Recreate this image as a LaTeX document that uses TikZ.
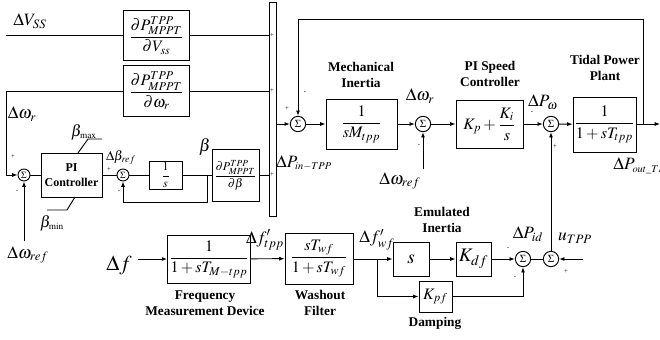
\documentclass[tikz,border=0pt]{standalone}
\usepackage{amsmath}
\usepackage{mathptmx}
\usepackage{fontspec}
\setmainfont{Liberation Serif}
\usetikzlibrary{arrows.meta, positioning, calc}

\tikzset{
  blk/.style={draw, inner sep=1pt, font=\large},
  sumb/.style={draw, circle, minimum size=11.5pt, inner sep=0pt, font=\footnotesize},
  sums/.style={sumb, minimum size=9pt, font=\scriptsize},
  ttl/.style={font=\bfseries, align=center, inner sep=0pt},
  sig/.style={font=\fontsize{13}{15}\selectfont, inner sep=0pt},
  pm/.style={font=\tiny, inner sep=0pt},
}

\begin{document}
\begin{tikzpicture}[x=0.75pt, y=-0.75pt, >={Latex[length=4pt,width=3pt]}, line width=0.7pt]
  \useasboundingbox (0,0) rectangle (660,339);
  % Sensitivity blocks and summing bar
  \node[blk, minimum width=50pt, minimum height=37pt] (bVss) at (156.5,35.5) {$\dfrac{\partial P^{TPP}_{MPPT}}{\partial V_{ss}}$};
  \node[blk, minimum width=50pt, minimum height=38pt] (bWr) at (156.5,91) {$\dfrac{\partial P^{TPP}_{MPPT}}{\partial \omega_{r}}$};
  \node[draw, minimum width=5.25pt, minimum height=161pt, inner sep=0pt] (bar) at (272.5,109.5) {};
  \node[sig] (lVss) at (30,21) {$\Delta V_{SS}$};
  \coordinate (vin) at (6,35.5);
  \draw (vin) -- (bVss.west);
  \draw (bVss.east) -- (bVss.east -| bar.west);
  \draw (bWr.east) -- (bWr.east -| bar.west);
  % Pitch loop
  \node[sums] (s1) at (24,175) {$\Sigma$};
  \node[blk, font=\bfseries\small, align=center, minimum width=45.75pt, minimum height=33pt] (bPI) at (71.5,175) {PI\\Controller};
  \node[sums] (s2) at (123,175) {$\Sigma$};
  \node[blk, font=\small, minimum width=24.75pt, minimum height=21pt] (bInt) at (165.5,175) {$\dfrac{1}{s}$};
  \node[blk, font=\small, minimum width=35.25pt, minimum height=39pt] (bBeta) at (235.5,175) {$\dfrac{\partial P^{TPP}_{MPPT}}{\partial \beta}$};
  \coordinate (wl) at (6,91);
  \coordinate (wref1) at (24,241);
  \draw[->] (bWr.west) -- (wl) |- (s1);
  \draw[->] (wref1) -- (s1);
  \draw (s1) -- (bPI);
  \draw (bPI) -- (s2);
  \draw (s2) -- (bInt);
  \draw (bInt) -- (bBeta);
  \draw (bBeta.east) -- (bBeta.east -| bar.west);
  \coordinate (ifb) at (207,175);
  \coordinate (ifb2) at (207,202);
  \draw[->] (ifb) -- (ifb2) -| (s2);
  \draw (78,153) -- (88,139) -- (102,139);
  \draw (75,197) -- (67,210) -- (47,210);
  \node[sig] (lWr1) at (22,114) {$\Delta\omega_{r}$};
  \node[sig] (lWref1) at (28,255) {$\Delta\omega_{ref}$};
  \node[inner sep=0pt, font=\large] (lbmax) at (84,132) {$\beta_{\scriptscriptstyle\mathrm{max}}$};
  \node[inner sep=0pt, font=\large] (lbmin) at (52,223) {$\beta_{\scriptscriptstyle\mathrm{min}}$};
  \node[inner sep=0pt] (ldb) at (121,158) {$\Delta\beta_{ref}$};
  \node[sig] (lbeta) at (205,147) {$\beta$};
  \node[pm] at (13,157) {+};
  \node[pm] at (17,192) {-};
  \node[pm] at (109,170) {+};
  \node[pm] at (119,192) {-};
  \node[pm] at (272,35.5) {+};
  \node[pm] at (272,91) {+};
  \node[pm] at (272,175) {+};
  % Speed loop and tidal power plant
  \node[sumb] (s3) at (298,124) {$\Sigma$};
  \node[blk, minimum width=53.25pt, minimum height=37.5pt] (bMech) at (361.5,124) {$\dfrac{1}{sM_{tpp}}$};
  \node[sumb] (s4) at (423,124) {$\Sigma$};
  \node[blk, minimum width=50.25pt, minimum height=36pt] (bPIs) at (489.5,124) {$K_{p}+\dfrac{K_{i}}{s}$};
  \node[sumb] (s5) at (551,124) {$\Sigma$};
  \node[blk, minimum width=47.25pt, minimum height=41.25pt] (bTPP) at (604.5,124.5) {$\dfrac{1}{1+sT_{tpp}}$};
  \coordinate (out) at (660,124);
  \coordinate (fb) at (643,124);
  \coordinate (fbtop) at (643,19);
  \coordinate (wref2) at (423,169);
  \draw[->] (s3.west -| bar.east) -- (s3);
  \draw[->] (s3) -- (bMech);
  \draw[->] (bMech) -- (s4);
  \draw[->] (s4) -- (bPIs);
  \draw[->] (bPIs) -- (s5);
  \draw[->] (s5) -- (bTPP);
  \draw[->] (bTPP.east |- out) -- (out);
  \draw[->] (fb) -- (fbtop) -| (s3);
  \draw[->] (wref2) -- (s4);
  \node[ttl] (tMech) at (361,75) {Mechanical\\Inertia};
  \node[ttl] (tPIs) at (490,74) {PI Speed\\Controller};
  \node[ttl] (tTPP) at (605,68) {Tidal Power\\Plant};
  \node[sig] (lPin) at (304,163) {$\Delta P_{\scriptscriptstyle in-TPP}$};
  \node[sig] (lWr2) at (420,96) {$\Delta\omega_{r}$};
  \node[sig] (lWref2) at (400,181) {$\Delta\omega_{ref}$};
  \node[sig] (lPw) at (543,102) {$\Delta P_{\omega}$};
  \node[sig, anchor=west] (lPout) at (613,166) {$\Delta P_{\scriptscriptstyle out\_TPP}$};
  \node[pm] at (287,109) {+};
  \node[pm] at (305,93) {-};
  \node[pm] at (419,146) {-};
  \node[pm] at (532,113) {-};
  \node[pm] at (555,147) {+};
  % Frequency support path
  \node[blk, minimum width=51pt, minimum height=36pt] (bFMD) at (209,259) {$\dfrac{1}{1+sT_{M-tpp}}$};
  \node[blk, minimum width=51pt, minimum height=38.25pt] (bWash) at (319,258.5) {$\dfrac{sT_{wf}}{1+sT_{wf}}$};
  \node[blk, font=\Large, minimum width=27pt, minimum height=25.5pt] (bS) at (411,259) {$s$};
  \node[blk, font=\Large, minimum width=26.25pt, minimum height=25.5pt] (bKdf) at (473.5,259) {$K_{df}$};
  \node[blk, minimum width=24.75pt, minimum height=23.25pt] (bKpf) at (435.5,296.5) {$K_{pf}$};
  \node[sumb] (s6) at (523,259) {$\Sigma$};
  \node[sumb] (s7) at (551,259) {$\Sigma$};
  \coordinate (fin) at (138,259);
  \coordinate (br) at (377,259);
  \coordinate (uin) at (583,259);
  \draw[->] (fin) -- (bFMD);
  \draw[->] (bFMD) -- (bWash);
  \draw[->] (bWash.east |- bS) -- (bS);
  \draw[->] (br) |- (bKpf);
  \draw[->] (bS) -- (bKdf);
  \draw[->] (bKdf) -- (s6);
  \draw[->] (bKpf) -| (s6);
  \draw (s6) -- (s7);
  \draw[->] (uin) -- (s7);
  \draw[->] (s7) -- (s5);
  \node[sig, font=\fontsize{16}{18}\selectfont] (lf) at (119,265) {$\Delta f$};
  \node[sig] (lftpp) at (265,240) {$\Delta f'_{tpp}$};
  \node[sig] (lfwf) at (377,240) {$\Delta f'_{wf}$};
  \node[sig] (lPid) at (528,234) {$\Delta P_{id}$};
  \node[sig] (lu) at (575,238) {$u_{TPP}$};
  \node[ttl] (tFMD) at (205,303) {Frequency\\Measurement Device};
  \node[ttl] (tWash) at (320,303) {Washout\\Filter};
  \node[ttl] (tEI) at (442,220) {Emulated\\Inertia};
  \node[ttl] (tDamp) at (435,323) {Damping};
  \node[pm] at (508,249) {-};
  \node[pm] at (515,278) {-};
  \node[pm] at (566,272) {+};
\end{tikzpicture}
\end{document}
